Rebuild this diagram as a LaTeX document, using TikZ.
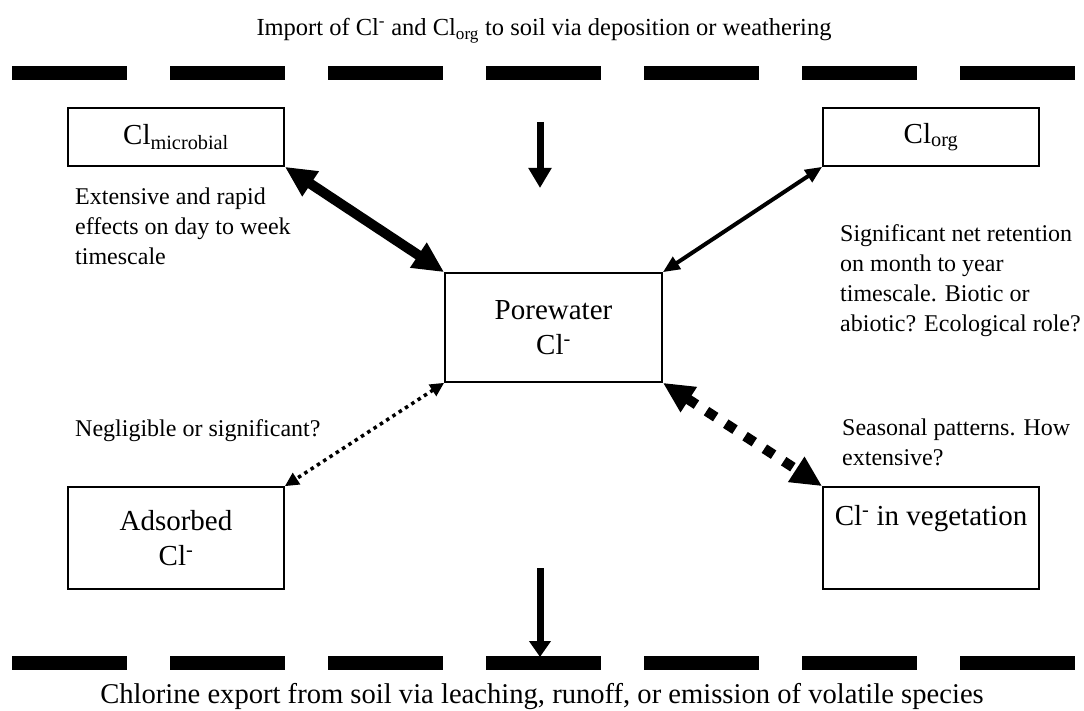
\documentclass[tikz,border=0pt]{standalone}
\usepackage{fontspec}
\setmainfont{Liberation Serif}
\usetikzlibrary{arrows.meta}
\tikzset{
  box/.style={draw, line width=1.6pt, inner sep=0pt, align=center, font=\fontsize{29}{35}\selectfont},
  note/.style={inner sep=0pt, align=left, anchor=north west, font=\fontsize{24}{30}\selectfont},
  title/.style={inner sep=0pt},
  barline/.style={line width=14pt, dash pattern=on 115pt off 43pt},
  fluxarrow/.style={line width=7pt, -{Triangle[length=20pt,width=22pt]}},
  bigtip/.style={{Triangle[length=31pt,width=28pt]}-{Triangle[length=31pt,width=28pt]}},
  smalltip/.style={{Triangle[length=17pt,width=14pt]}-{Triangle[length=17pt,width=14pt]}},
}
\begin{document}
\begin{tikzpicture}[x=1pt,y=-1pt]
\useasboundingbox (0,0) rectangle (1084,711);
% titles
\node[title, font=\fontsize{24.5}{30}\selectfont] (importtxt) at (544,31) {Import of Cl\textsuperscript{-} and Cl\textsubscript{org} to soil via deposition or weathering};
\node[title, anchor=base, font=\fontsize{28.6}{34}\selectfont] (exporttxt) at (542,703) {Chlorine export from soil via leaching, runoff, or emission of volatile species};
% dashed boundaries
\coordinate (tl) at (12,73); \coordinate (tr) at (1084,73);
\coordinate (bl) at (12,663); \coordinate (br) at (1084,663);
\draw[barline] (tl) -- (tr);
\draw[barline] (bl) -- (br);
% boxes
\node[box, minimum width=216pt, minimum height=58pt] (micro) at (176,137) {Cl\textsubscript{microbial}};
\node[box, minimum width=216pt, minimum height=58pt] (org) at (931,137) {Cl\textsubscript{org}};
\node[box, minimum width=217pt, minimum height=109pt] (pore) at (553.5,327.5) {Porewater\\Cl\textsuperscript{-}};
\node[box, minimum width=216pt, minimum height=102pt] (ads) at (176,538) {Adsorbed\\Cl\textsuperscript{-}};
\node[box, minimum width=216pt, minimum height=102pt, label={[font=\fontsize{29}{35}\selectfont, anchor=north, yshift=-16pt]north:{Cl\textsuperscript{-} in vegetation}}] (veg) at (931,538) {};
% vertical flux arrows
\coordinate (inTop) at (540,122); \coordinate (inEnd) at (540,188);
\draw[fluxarrow] (inTop) -- (inEnd);
\coordinate (outTop) at (540,568); \coordinate (outEnd) at (540,657);
\draw[line width=7pt, -{Triangle[length=16pt,width=21pt]}] (outTop) -- (outEnd);
% exchanges
\draw[bigtip, line width=10pt] (micro.south east) -- (pore.north west);
\draw[smalltip, line width=4pt] (pore.north east) -- (org.south west);
\draw[{Triangle[length=14pt,width=13pt]}-{Triangle[length=14pt,width=13pt]}, line width=3.5pt, dash pattern=on 3.5pt off 4pt] (pore.south west) -- (ads.north east);
\draw[bigtip, line width=10pt, dash pattern=on 11pt off 12pt] (pore.south east) -- (veg.north west);
% notes
\node[note] (n1) at (75,188) {Extensive and rapid\\effects on day to week\\timescale};
\node[note] (n2) at (840,224) {Significant net retention\\on month to year\\timescale. Biotic or\\abiotic? Ecological role?};
\node[note] (n3) at (75,419) {Negligible or significant?};
\node[note] (n4) at (842,419) {Seasonal patterns. How\\extensive?};
\end{tikzpicture}
\end{document}
